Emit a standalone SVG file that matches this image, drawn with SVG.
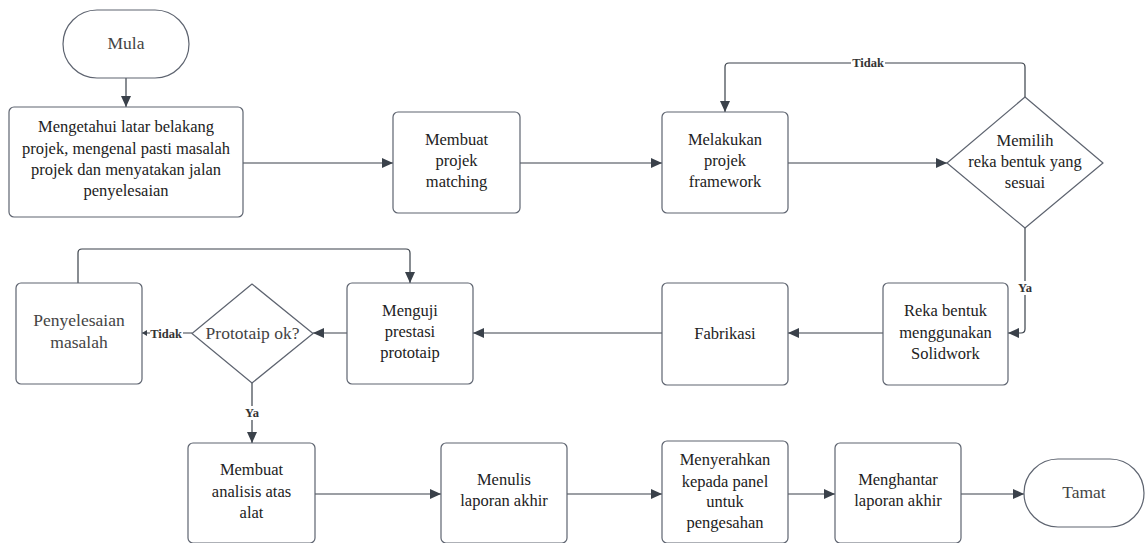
<svg xmlns="http://www.w3.org/2000/svg" width="1146" height="543" viewBox="0 0 1146 543">
<defs>
<marker id="ah" markerWidth="12" markerHeight="10" refX="11" refY="5" orient="auto" markerUnits="userSpaceOnUse">
<path d="M0,0 L11,5 L0,10 Z" fill="#3a414a"/>
</marker>
<marker id="ahs" markerWidth="6" markerHeight="6" refX="5" refY="3" orient="auto" markerUnits="userSpaceOnUse">
<path d="M0,0 L5,3 L0,6 Z" fill="#3a414a"/>
</marker>
</defs>
<style>
.box{fill:#fff;stroke:#5e6470;stroke-width:1.2}
text{font-family:"Liberation Serif","Times New Roman",serif}
.t{font-size:16.5px;fill:#222;text-anchor:middle}
.g{font-size:17.5px;fill:#444;text-anchor:middle}
.lab{font-size:12.5px;font-weight:bold;fill:#333;text-anchor:middle}
.c{fill:none;stroke:#3a414a;stroke-width:1.2}
</style>
<rect width="1146" height="543" fill="#fff"/>

<g id="connectors">
<path class="c" d="M126,78 V107" marker-end="url(#ah)"/>
<path class="c" d="M243,163 H393" marker-end="url(#ah)"/>
<path class="c" d="M520,163 H662" marker-end="url(#ah)"/>
<path class="c" d="M788,163 H947" marker-end="url(#ah)"/>
<path class="c" d="M1025,97 V67 Q1025,63 1021,63 H729 Q725,63 725,67 V112" marker-end="url(#ah)"/>
<path class="c" d="M1025,228 V329 Q1025,333 1021,333 H1008" marker-end="url(#ah)"/>
<path class="c" d="M883,333 H788" marker-end="url(#ah)"/>
<path class="c" d="M662,333 H473" marker-end="url(#ah)"/>
<path class="c" d="M347,333 H313" marker-end="url(#ah)"/>
<path class="c" d="M192,333 H142" marker-end="url(#ahs)"/>
<path class="c" d="M78,283 V253 Q78,249 82,249 H406 Q410,249 410,253 V283" marker-end="url(#ah)"/>
<path class="c" d="M252,383 V443" marker-end="url(#ah)"/>
<path class="c" d="M315,494 H441" marker-end="url(#ah)"/>
<path class="c" d="M567,494 H662" marker-end="url(#ah)"/>
<path class="c" d="M788,494 H835" marker-end="url(#ah)"/>
<path class="c" d="M961,494 H1024" marker-end="url(#ah)"/>
<rect x="851" y="55" width="34" height="15" fill="#fff"/>
<text class="lab" x="868" y="67">Tidak</text>
<rect x="1016" y="281" width="18" height="14" fill="#fff"/>
<text class="lab" x="1025" y="292">Ya</text>
<rect x="150" y="326" width="33" height="14" fill="#fff"/>
<text class="lab" x="166" y="338">Tidak</text>
<rect x="243" y="406" width="18" height="14" fill="#fff"/>
<text class="lab" x="252" y="417">Ya</text>
</g>

<g id="mula">
<rect class="box" x="63" y="10" width="126" height="68" rx="34"/>
<text class="g" x="126" y="49">Mula</text>
</g>
<g id="latar">
<rect class="box" x="9" y="107" width="234" height="110" rx="5"/>
<text class="t" x="126" y="132">Mengetahui latar belakang</text>
<text class="t" x="126" y="154">projek, mengenal pasti masalah</text>
<text class="t" x="126" y="175">projek dan menyatakan jalan</text>
<text class="t" x="126" y="196">penyelesaian</text>
</g>
<g id="matching">
<rect class="box" x="393" y="112" width="127" height="101" rx="5"/>
<text class="t" x="456.5" y="145">Membuat</text>
<text class="t" x="456.5" y="166">projek</text>
<text class="t" x="456.5" y="187">matching</text>
</g>
<g id="framework">
<rect class="box" x="662" y="112" width="126" height="101" rx="5"/>
<text class="t" x="725" y="145">Melakukan</text>
<text class="t" x="725" y="166">projek</text>
<text class="t" x="725" y="187">framework</text>
</g>
<g id="memilih">
<path class="box" d="M1025,97 L1103,163 L1025,228 L947,163 Z" stroke-linejoin="round"/>
<text class="t" x="1025" y="146">Memilih</text>
<text class="t" x="1025" y="167">reka bentuk yang</text>
<text class="t" x="1025" y="188">sesuai</text>
</g>
<g id="reka">
<rect class="box" x="883" y="283" width="125" height="102" rx="5"/>
<text class="t" x="945.5" y="316">Reka bentuk</text>
<text class="t" x="945.5" y="338">menggunakan</text>
<text class="t" x="945.5" y="359">Solidwork</text>
</g>
<g id="fabrikasi">
<rect class="box" x="662" y="283" width="126" height="102" rx="5"/>
<text class="t" x="725" y="339">Fabrikasi</text>
</g>
<g id="menguji">
<rect class="box" x="347" y="283" width="126" height="101" rx="5"/>
<text class="t" x="410" y="316">Menguji</text>
<text class="t" x="410" y="337">prestasi</text>
<text class="t" x="410" y="358">prototaip</text>
</g>
<g id="prototaip">
<path class="box" d="M252,284 L313,333.5 L252,383 L192,333.5 Z" stroke-linejoin="round"/>
<text class="g" x="252.5" y="339">Prototaip ok?</text>
</g>
<g id="penyelesaian">
<rect class="box" x="16" y="283" width="126" height="101" rx="5"/>
<text class="g" x="79" y="326">Penyelesaian</text>
<text class="g" x="79" y="348">masalah</text>
</g>
<g id="analisis">
<rect class="box" x="188" y="443" width="127" height="100" rx="5"/>
<text class="t" x="251.5" y="475">Membuat</text>
<text class="t" x="251.5" y="497">analisis atas</text>
<text class="t" x="251.5" y="518">alat</text>
</g>
<g id="menulis">
<rect class="box" x="441" y="443" width="126" height="100" rx="5"/>
<text class="t" x="504" y="485">Menulis</text>
<text class="t" x="504" y="506">laporan akhir</text>
</g>
<g id="menyerahkan">
<rect class="box" x="662" y="441" width="126" height="102" rx="5"/>
<text class="t" x="725" y="465">Menyerahkan</text>
<text class="t" x="725" y="487">kepada panel</text>
<text class="t" x="725" y="507">untuk</text>
<text class="t" x="725" y="528">pengesahan</text>
</g>
<g id="menghantar">
<rect class="box" x="835" y="443" width="126" height="100" rx="5"/>
<text class="t" x="898" y="485">Menghantar</text>
<text class="t" x="898" y="506">laporan akhir</text>
</g>
<g id="tamat">
<rect class="box" x="1024" y="459" width="120" height="68" rx="34"/>
<text class="g" x="1084" y="498">Tamat</text>
</g>
</svg>
